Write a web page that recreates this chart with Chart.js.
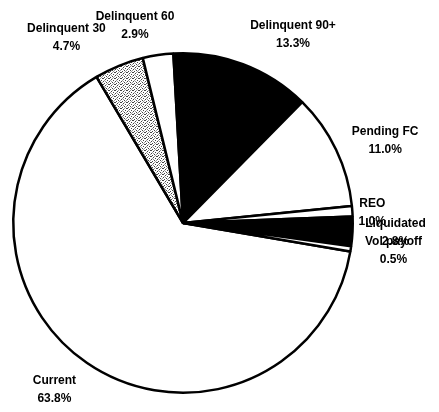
<!DOCTYPE html>
<html>
<head>
<meta charset="utf-8">
<script src="https://cdn.jsdelivr.net/npm/chart.js@4/dist/chart.umd.min.js"></script>
<style>
  html, body { margin: 0; padding: 0; background: #ffffff; }
  #wrap { width: 439px; height: 412px; position: relative; }
</style>
</head>
<body>
<div id="wrap"><canvas id="pie" width="439" height="412"></canvas></div>
<script>
// Loan status breakdown (percent of pool)
const categories = ['Current', 'Delinquent 30', 'Delinquent 60', 'Delinquent 90+', 'Pending FC', 'REO', 'Liquidated', 'Vol payoff'];
const shares = [63.8, 4.7, 2.9, 13.3, 11.0, 1.0, 2.8, 0.5];
const shareLabels = ['63.8%', '4.7%', '2.9%', '13.3%', '11.0%', '1.0%', '2.8%', '0.5%'];

// Fill styles: plain white, stippled, solid black
function stipple() {
  const c = document.createElement('canvas');
  c.width = 6; c.height = 6;
  const g = c.getContext('2d');
  g.fillStyle = '#ffffff';
  g.fillRect(0, 0, 6, 6);
  g.fillStyle = '#444444';
  [[0,0],[3,1],[1,3],[4,4],[2,5],[5,2],[1,0]].forEach(([x, y]) => g.fillRect(x, y, 1, 1));
  g.fillStyle = '#999999';
  [[2,2],[5,5],[0,4],[4,0],[3,3]].forEach(([x, y]) => g.fillRect(x, y, 1, 1));
  return g.createPattern(c, 'repeat');
}
const ctx = document.getElementById('pie').getContext('2d');
const fills = ['#ffffff', stipple(), '#ffffff', '#000000', '#ffffff', '#ffffff', '#000000', '#ffffff'];

// Extra offset of each label block relative to its radial anchor
const labelNudge = [[-21, 10], [-45, -10], [-20, -10], [43, -11], [31, 0], [0, 3], [23, 0], [23, -1]];

const sliceLabels = {
  id: 'sliceLabels',
  afterDatasetsDraw(chart) {
    const g = chart.ctx;
    const meta = chart.getDatasetMeta(0);
    g.save();
    g.font = 'bold 12px "Liberation Sans", Arial, sans-serif';
    g.fillStyle = '#000000';
    g.textAlign = 'center';
    g.textBaseline = 'middle';
    meta.data.forEach((arc, i) => {
      const p = arc.getProps(['x', 'y', 'startAngle', 'endAngle', 'outerRadius'], true);
      const mid = (p.startAngle + p.endAngle) / 2;
      const r = p.outerRadius + 20;
      const x = p.x + Math.cos(mid) * r + labelNudge[i][0];
      const y = p.y + Math.sin(mid) * r + labelNudge[i][1];
      g.fillText(categories[i], x, y - 9);
      g.fillText(shareLabels[i], x, y + 9);
    });
    g.restore();
  }
};

new Chart(ctx, {
  type: 'pie',
  data: {
    labels: categories,
    datasets: [{
      data: shares,
      backgroundColor: fills,
      borderColor: '#000000',
      borderWidth: 2.5
    }]
  },
  options: {
    responsive: false,
    animation: false,
    rotation: 99.7,
    layout: { padding: { left: 12, right: 85, top: 52, bottom: 18 } },
    plugins: {
      legend: { display: false },
      tooltip: { enabled: false }
    }
  },
  plugins: [sliceLabels]
});
</script>
</body>
</html>
